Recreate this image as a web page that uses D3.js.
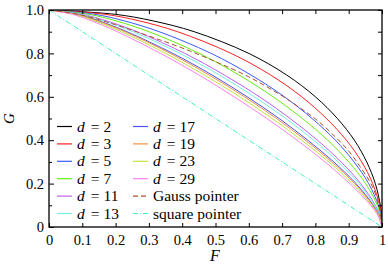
<!DOCTYPE html>
<html><head><meta charset="utf-8">
<script src="https://cdn.jsdelivr.net/npm/d3@7"></script>
<style>
html,body{margin:0;padding:0;background:#fff;}
svg text{font-family:"Liberation Serif","Times New Roman",serif;fill:#000;}
</style></head>
<body>
<svg id="chart" width="388" height="268"></svg>
<script>
// G values shared by the d-curves (parametric grid), F values read per curve
const gGrid = [1, 0.98, 0.95, 0.9, 0.8, 0.7, 0.6, 0.5, 0.4, 0.3, 0.2, 0.1, 0.05, 0];
const fD2  = [0, 0.199, 0.312, 0.436, 0.600, 0.714, 0.800, 0.866, 0.917, 0.954, 0.980, 0.995, 0.9987, 1];
const fD3  = [0, 0.169, 0.271, 0.386, 0.547, 0.666, 0.759, 0.833, 0.893, 0.939, 0.972, 0.993, 0.9982, 1];
const fD5  = [0, 0.138, 0.226, 0.331, 0.487, 0.607, 0.707, 0.790, 0.860, 0.916, 0.960, 0.989, 0.9971, 1];
const fD7  = [0, 0.120, 0.201, 0.300, 0.451, 0.571, 0.673, 0.761, 0.837, 0.900, 0.951, 0.986, 0.9961, 1];
const fD11 = [0, 0.101, 0.173, 0.264, 0.408, 0.527, 0.632, 0.724, 0.806, 0.877, 0.936, 0.980, 0.9943, 1];
const fD13 = [0, 0.095, 0.163, 0.252, 0.393, 0.512, 0.617, 0.711, 0.795, 0.868, 0.931, 0.978, 0.9935, 1];
const fD17 = [0, 0.086, 0.150, 0.234, 0.372, 0.490, 0.595, 0.691, 0.777, 0.855, 0.922, 0.974, 0.9921, 1];
const fD19 = [0, 0.082, 0.145, 0.228, 0.364, 0.481, 0.587, 0.683, 0.770, 0.849, 0.918, 0.972, 0.9914, 1];
const fD23 = [0, 0.077, 0.137, 0.217, 0.350, 0.467, 0.573, 0.670, 0.759, 0.840, 0.911, 0.969, 0.9902, 1];
const fD29 = [0, 0.071, 0.128, 0.205, 0.335, 0.451, 0.556, 0.654, 0.745, 0.829, 0.903, 0.966, 0.9886, 1];
const gaussF = [0, 0.1, 0.2, 0.3, 0.4, 0.5, 0.6, 0.7, 0.75, 0.8, 0.85, 0.9, 0.94, 0.97, 0.99, 1];
const gaussG = [1, 0.976, 0.932, 0.880, 0.825, 0.762, 0.692, 0.604, 0.553, 0.498, 0.430, 0.350, 0.265, 0.190, 0.105, 0];
const squareF = [0, 1];
const squareG = [1, 0];
const xTickVals = [0, 0.1, 0.2, 0.3, 0.4, 0.5, 0.6, 0.7, 0.8, 0.9, 1];
const xTickLabels = ["0", "0.1", "0.2", "0.3", "0.4", "0.5", "0.6", "0.7", "0.8", "0.9", "1"];
const yTickVals = [0, 0.2, 0.4, 0.6, 0.8, 1.0];
const yTickLabels = ["0", "0.2", "0.4", "0.6", "0.8", "1.0"];
const yMinorVals = [0.1, 0.3, 0.5, 0.7, 0.9];

const series = [
  {name: "2",  f: fD2,  g: gGrid, color: "#000000"},
  {name: "3",  f: fD3,  g: gGrid, color: "#ff2020"},
  {name: "5",  f: fD5,  g: gGrid, color: "#3c5aff"},
  {name: "7",  f: fD7,  g: gGrid, color: "#66ee11"},
  {name: "11", f: fD11, g: gGrid, color: "#c060f0"},
  {name: "13", f: fD13, g: gGrid, color: "#70f0e0"},
  {name: "17", f: fD17, g: gGrid, color: "#5050f0"},
  {name: "19", f: fD19, g: gGrid, color: "#f09040"},
  {name: "23", f: fD23, g: gGrid, color: "#c0e040"},
  {name: "29", f: fD29, g: gGrid, color: "#ff80f0"},
  {name: "Gauss pointer", f: gaussF, g: gaussG, color: "#b05030", dash: "5,3"},
  {name: "square pointer", f: squareF, g: squareG, color: "#40f0c0", dash: "5,2,1,2"}
];

const svg = d3.select("#chart");
const L = 49, R = 382, T = 10, B = 227;
const x = d3.scaleLinear().domain([0, 1]).range([L, R]);
const y = d3.scaleLinear().domain([0, 1]).range([B, T]);

svg.append("defs").append("clipPath").attr("id", "clip")
  .append("rect").attr("x", L).attr("y", T).attr("width", R - L).attr("height", B - T);

const line = d3.line().x(d => x(d[0])).y(d => y(d[1])).curve(d3.curveCatmullRom.alpha(0.5));
const plot = svg.append("g").attr("clip-path", "url(#clip)");
series.forEach(s => {
  const pts = s.f.map((v, i) => [v, s.g[i]]);
  plot.append("path").attr("d", line(pts)).attr("fill", "none")
    .attr("stroke", s.color).attr("stroke-width", 1)
    .attr("stroke-dasharray", s.dash || null);
});

// axes
function styleAxis(g) {
  g.attr("font-family", null).attr("font-size", null);
  g.select(".domain").remove();
  g.selectAll(".tick line").attr("stroke", "#000").attr("stroke-width", 1);
  g.selectAll("text").style("font-size", "14.5px")
    .style("font-family", "'Liberation Serif', serif").attr("fill", "#000");
}
svg.append("g").attr("transform", `translate(0,${B})`)
  .call(d3.axisBottom(x).tickValues(xTickVals).tickFormat((d, i) => xTickLabels[i]).tickSize(-4).tickPadding(8))
  .call(styleAxis);
svg.append("g").attr("transform", `translate(0,${T})`)
  .call(d3.axisTop(x).tickValues(xTickVals).tickFormat("").tickSize(-4))
  .call(styleAxis);
svg.append("g").attr("transform", `translate(${L},0)`)
  .call(d3.axisLeft(y).tickValues(yTickVals).tickFormat((d, i) => yTickLabels[i]).tickSize(-5).tickPadding(5))
  .call(styleAxis);
svg.append("g").attr("transform", `translate(${L},0)`)
  .call(d3.axisLeft(y).tickValues(yMinorVals).tickFormat("").tickSize(-3))
  .call(styleAxis);
svg.append("g").attr("transform", `translate(${R},0)`)
  .call(d3.axisRight(y).tickValues(yTickVals.concat(yMinorVals)).tickFormat("").tickSize(-4))
  .call(styleAxis);

svg.append("rect").attr("x", L).attr("y", T).attr("width", R - L).attr("height", B - T)
  .attr("fill", "none").attr("stroke", "#000").attr("stroke-width", 1.3);

// axis labels
svg.append("text").attr("x", 215).attr("y", 261).attr("text-anchor", "middle")
  .style("font-size", "16px").style("font-style", "italic").text("F");
svg.append("text").attr("transform", "translate(14,118.5) rotate(-90)").attr("text-anchor", "middle")
  .style("font-size", "15px").style("font-style", "italic").text("G");

// legend
const legend = svg.append("g");
series.forEach((s, i) => {
  const col = i < 6 ? 0 : 1;
  const row = i % 6;
  const lx = col === 0 ? 57 : 133;
  const ly = 126.5 + row * 17.4;
  legend.append("line").attr("x1", lx).attr("x2", lx + 15).attr("y1", ly).attr("y2", ly)
    .attr("stroke", s.color).attr("stroke-width", 1.2).attr("stroke-dasharray", s.dash || null);
  const t = legend.append("text").attr("x", lx + 20).attr("y", ly + 5).style("font-size", "15.5px");
  if (i < 10) {
    t.append("tspan").style("font-style", "italic").text("d");
    t.append("tspan").text("\u2009= " + s.name).attr("dx", 3);
  } else {
    t.text(s.name);
  }
});
</script>
</body></html>
